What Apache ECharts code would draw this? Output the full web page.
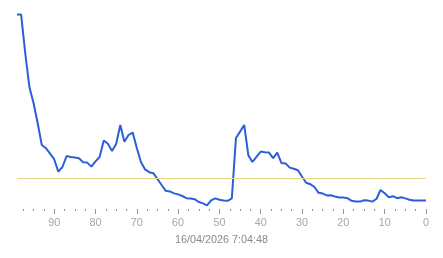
<!DOCTYPE html>
<html>
<head>
<meta charset="utf-8">
<script src="https://cdn.jsdelivr.net/npm/echarts@6/dist/echarts.min.js"></script>
<style>html,body{margin:0;padding:0;background:#fff}#c{width:443px;height:258px}</style>
</head>
<body>
<div id="c"></div>
<script>
var xValues = [99,98,97,96,95,94,93,92,91,90,89,88,87,86,85,84,83,82,81,80,79,78,77,76,75,74,73,72,71,70,69,68,67,66,65,64,63,62,61,60,59,58,57,56,55,54,53,52,51,50,49,48,47,46,45,44,43,42,41,40,39,38,37,36,35,34,33,32,31,30,29,28,27,26,25,24,23,22,21,20,19,18,17,16,15,14,13,12,11,10,9,8,7,6,5,4,3,2,1,0];
var seriesValues = [97.2,97.2,77.8,61,53,43,32,30.4,27.7,24.9,18.7,21,26.5,26,25.7,25.4,23.4,23.2,21.2,23.8,26,34.3,32.6,29,32.5,42,33.6,37,38.2,30.5,23.5,19.8,18.4,17.9,15,12,9.1,8.8,7.8,7.3,6.5,5.4,5.2,4.9,3.5,2.8,1.8,4.3,5.3,4.6,4.3,4.1,5.3,35.5,38.7,42,26.8,23.5,26.2,28.7,28.4,28.2,25.4,28.2,23,22.8,20.7,20.1,19.4,16.1,13.1,12.4,11,8.1,7.7,6.8,6.9,6.2,5.8,5.7,5.4,4.1,3.7,3.7,4.4,4.2,3.7,5,9.5,7.9,5.9,6.4,5.4,5.9,5.3,4.6,4.2,4.2,4.2,4.2];
var threshold = 15.4;
var majorTicks = [0,10,20,30,40,50,60,70,80,90];
var minorTicks = [2.5,5,7.5,12.5,15,17.5,22.5,25,27.5,32.5,35,37.5,42.5,45,47.5,52.5,55,57.5,62.5,65,67.5,72.5,75,77.5,82.5,85,87.5,92.5,95,97.5];
var axisTitle = '16/04/2026 7:04:48';

var data = xValues.map(function (x, i) { return [x, seriesValues[i]]; });
var font = "'Liberation Sans', Arial, sans-serif";
var chart = echarts.init(document.getElementById('c'));
chart.setOption({
  animation: false,
  backgroundColor: '#fff',
  grid: { left: 17, right: 17, top: 9, bottom: 49 },
  xAxis: [{
    type: 'value', min: 0, max: 99, inverse: true,
    axisLine: { show: false },
    splitLine: { show: false },
    axisTick: { show: true, customValues: majorTicks, length: 5, lineStyle: { color: '#999' } },
    axisLabel: { customValues: majorTicks, fontSize: 10.8, color: '#a6a6a6', margin: 9, fontFamily: font },
    name: axisTitle, nameLocation: 'middle', nameGap: 26,
    nameTextStyle: { fontSize: 10.8, color: '#888', fontFamily: font }
  }, {
    type: 'value', min: 0, max: 99, inverse: true, position: 'bottom',
    axisLine: { show: false },
    splitLine: { show: false },
    axisTick: { show: true, customValues: minorTicks, length: 2, lineStyle: { color: '#999' } },
    axisLabel: { show: false }
  }],
  yAxis: { type: 'value', min: 0, max: 100, show: false },
  series: [{
    type: 'line', xAxisIndex: 0, data: data, showSymbol: false,
    lineStyle: { color: '#2b5fd9', width: 2 },
    itemStyle: { color: '#2b5fd9' },
    markLine: {
      silent: true, symbol: 'none', label: { show: false },
      lineStyle: { color: '#e6d88a', width: 1, type: 'solid' },
      data: [{ yAxis: threshold }]
    }
  }]
});
</script>
</body>
</html>
